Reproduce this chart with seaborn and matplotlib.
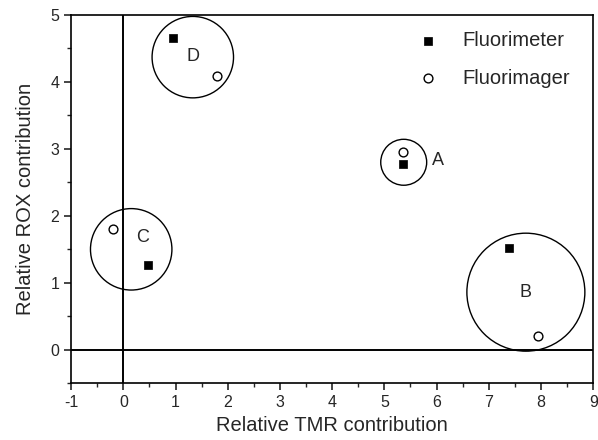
import numpy as np
import pandas as pd
import matplotlib
matplotlib.use("Agg")
import matplotlib.pyplot as plt
from matplotlib.patches import Ellipse
from matplotlib.ticker import MultipleLocator
import seaborn as sns

# valores
grupos = ["D", "A", "C", "B"]
fluorimetro_x = [0.95, 5.36, 0.48, 7.38]
fluorimetro_y = [4.65, 2.77, 1.27, 1.52]
fluorimager_x = [1.79, 5.36, -0.20, 7.95]
fluorimager_y = [4.09, 2.95, 1.80, 0.20]

# circulos de agrupacion (centro y radio en unidades de x)
circulo_x = [1.33, 5.37, 0.15, 7.71]
circulo_y = [4.37, 2.80, 1.50, 0.86]
circulo_r = [0.78, 0.44, 0.78, 1.13]

# posicion de las letras
letra_x = [1.33, 6.02, 0.36, 7.71]
letra_y = [4.38, 2.82, 1.68, 0.86]

sns.set_style("ticks")
plt.rcParams['font.family'] = ['Liberation Sans', 'DejaVu Sans']
plt.rcParams['axes.unicode_minus'] = False

df_fm = pd.DataFrame({'x': fluorimetro_x, 'y': fluorimetro_y})
df_fi = pd.DataFrame({'x': fluorimager_x, 'y': fluorimager_y})

fig = plt.figure(figsize=(5.98, 4.4), dpi=100)
ax = fig.add_axes([0.119, 0.129, 0.873, 0.837])

ax.set_xlim(-1, 9)
ax.set_ylim(-0.5, 5)

ax.axvline(0, color='black', lw=1.4, zorder=1)
ax.axhline(0, color='black', lw=1.4, zorder=1)

sns.scatterplot(data=df_fm, x='x', y='y', marker='s', s=40, color='black',
                edgecolor='black', linewidth=0.5, label='Fluorimeter', ax=ax, zorder=3)
sns.scatterplot(data=df_fi, x='x', y='y', marker='o', s=40, color='white',
                edgecolor='black', linewidth=1.0, label='Fluorimager', ax=ax, zorder=3)

# relacion de escala para que los circulos se vean redondos
bbox = ax.get_window_extent()
px_x = bbox.width / 10.0
px_y = bbox.height / 5.5
for cx, cy, r in zip(circulo_x, circulo_y, circulo_r):
    e = Ellipse((cx, cy), 2 * r, 2 * r * px_x / px_y, fill=False,
                edgecolor='black', lw=1.0, zorder=2)
    ax.add_patch(e)

for g, lx, ly in zip(grupos, letra_x, letra_y):
    ax.text(lx, ly, g, ha='center', va='center', fontsize=13, zorder=4)

ax.xaxis.set_major_locator(MultipleLocator(1))
ax.xaxis.set_minor_locator(MultipleLocator(0.5))
ax.set_yticks([0, 1, 2, 3, 4, 5])
ax.set_yticks(np.arange(-0.5, 5.01, 0.5), minor=True)

ax.tick_params(which='major', direction='out', length=5, width=1.2, labelsize=11.5)
ax.tick_params(which='minor', direction='out', length=3, width=1.0)
for sp in ax.spines.values():
    sp.set_linewidth(1.2)
    sp.set_color('black')

ax.set_xlabel('Relative TMR contribution', fontsize=14.5, labelpad=4)
ax.set_ylabel('Relative ROX contribution', fontsize=14.5, labelpad=11)

leg = ax.legend(loc='upper left', bbox_to_anchor=(0.665, 0.956), frameon=False,
                fontsize=14.5, handlelength=1.0, handletextpad=1.2,
                labelspacing=0.92, borderaxespad=0, borderpad=0)

fig.savefig('out.png', dpi=100)
plt.close(fig)
